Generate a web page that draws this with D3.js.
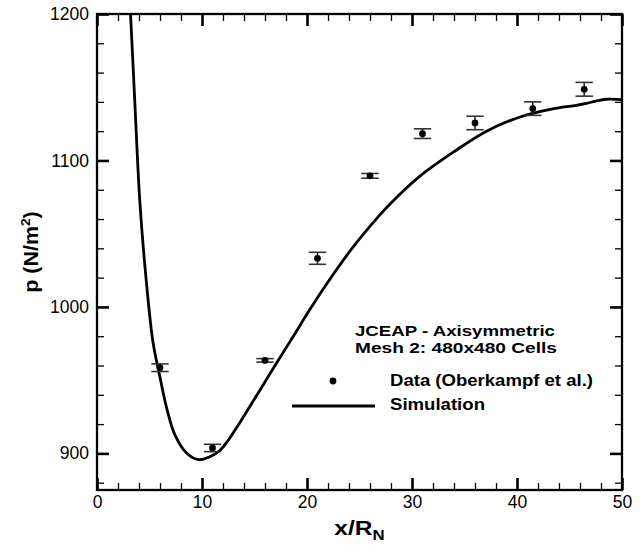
<!DOCTYPE html>
<html><head><meta charset="utf-8">
<script src="https://cdn.jsdelivr.net/npm/d3@7"></script>
<style>
html,body{margin:0;padding:0;background:#fff;}
text{font-family:"Liberation Sans",Arial,sans-serif;}
</style></head>
<body>
<svg id="chart" width="642" height="545"></svg>
<script>
// Experimental data (Oberkampf et al.)
const dataX = [6, 11, 16, 21, 26, 31, 36, 41.5, 46.4];
const dataP = [958.5, 903.7, 963.5, 1033.2, 1089.5, 1118.3, 1125.6, 1135.4, 1148.6];
const dataErr = [2.6, 2.5, 1.2, 4.1, 1.6, 3.3, 4.6, 4.6, 4.7];
// Simulation curve
const simX = [3.05, 3.2, 3.6, 4.07, 4.6, 5.33, 5.97, 6.6, 7.4, 8.5, 9.7, 10.7, 11.7, 12.6, 13.6, 15.5, 17.0, 18.7, 20.3, 21.9, 24.4, 26.9, 28.0, 30.7, 33.9, 37.1, 40.3, 43.4, 45.5, 46.6, 47.5, 48.5, 50];
const simP = [1215, 1199, 1140, 1073, 1025, 976, 953, 932, 913, 900.5, 895.7, 897.5, 902, 910, 921, 943, 960.5, 980, 998.5, 1016, 1041, 1062.5, 1071, 1089, 1105.5, 1120, 1129.7, 1135.2, 1137.5, 1139, 1140.5, 1141.8, 1141.6];
// Axis ticks
const xTicks = [0, 10, 20, 30, 40, 50];
const yTicks = [900, 1000, 1100, 1200];
const legendTitle = ["JCEAP - Axisymmetric", "Mesh 2: 480x480 Cells"];
const legendLabels = ["Data (Oberkampf et al.)", "Simulation"];

(function () {
const L = 97, R = 622, T = 14, B = 490;
const svg = d3.select("#chart");
const x = d3.scaleLinear().domain([0, 50]).range([L, R]);
const y = d3.scaleLinear().domain([875, 1200]).range([B, T]);

svg.append("defs").append("clipPath").attr("id", "clip")
  .append("rect").attr("x", L).attr("y", T).attr("width", R - L).attr("height", B - T);

const xMinor = d3.range(0, 50.01, 2).filter(v => !xTicks.includes(v));
const yMinor = d3.range(880, 1200.01, 20).filter(v => !yTicks.includes(v));

svg.append("g").attr("transform", `translate(0,${B})`)
  .call(d3.axisBottom(x).tickValues(xTicks).tickSize(-12).tickPadding(6).tickFormat(d3.format("d")));
svg.append("g").attr("transform", `translate(0,${T})`)
  .call(d3.axisTop(x).tickValues(xTicks).tickSize(-12).tickFormat(""));
svg.append("g").attr("transform", `translate(${L},0)`)
  .call(d3.axisLeft(y).tickValues(yTicks).tickSize(-12).tickPadding(8).tickFormat(d3.format("d")));
svg.append("g").attr("transform", `translate(${R},0)`)
  .call(d3.axisRight(y).tickValues(yTicks).tickSize(-12).tickFormat(""));
svg.append("g").attr("transform", `translate(0,${B})`).attr("class","minor")
  .call(d3.axisBottom(x).tickValues(xMinor).tickSize(-7).tickFormat(""));
svg.append("g").attr("transform", `translate(0,${T})`).attr("class","minor")
  .call(d3.axisTop(x).tickValues(xMinor).tickSize(-7).tickFormat(""));
svg.append("g").attr("transform", `translate(${L},0)`).attr("class","minor")
  .call(d3.axisLeft(y).tickValues(yMinor).tickSize(-7).tickFormat(""));
svg.append("g").attr("transform", `translate(${R},0)`).attr("class","minor")
  .call(d3.axisRight(y).tickValues(yMinor).tickSize(-7).tickFormat(""));

svg.selectAll(".domain").remove();
svg.selectAll(".tick line").attr("stroke", "#000").attr("stroke-width", 2.6);
svg.selectAll(".minor .tick line").attr("stroke-width", 1.3);
svg.selectAll(".tick text").attr("font-size", 17.5).attr("fill", "#000")
  .attr("font-family", "Liberation Sans, Arial, sans-serif");

// Frame
svg.append("rect").attr("x", L).attr("y", T).attr("width", R - L).attr("height", B - T)
  .attr("fill", "none").attr("stroke", "#000").attr("stroke-width", 2.3);

// Simulation line
const line = d3.line().x((d, i) => x(simX[i])).y((d, i) => y(simP[i])).curve(d3.curveCatmullRom.alpha(0.5));
svg.append("path").attr("clip-path", "url(#clip)").datum(simX)
  .attr("d", line).attr("fill", "none").attr("stroke", "#000").attr("stroke-width", 2.8);

// Error bars + data points
const pts = svg.append("g");
dataX.forEach((xv, i) => {
  const cx = x(xv), y1 = y(dataP[i] + dataErr[i]), y2 = y(dataP[i] - dataErr[i]);
  pts.append("line").attr("x1", cx).attr("x2", cx).attr("y1", y1).attr("y2", y2)
    .attr("stroke", "#222").attr("stroke-width", 1.5);
  [y1, y2].forEach(yy => pts.append("line").attr("x1", cx - 8.7).attr("x2", cx + 8.7)
    .attr("y1", yy).attr("y2", yy).attr("stroke", "#333").attr("stroke-width", 1.6));
  pts.append("circle").attr("cx", cx).attr("cy", y(dataP[i])).attr("r", 3.4).attr("fill", "#000");
});

// Legend
const lg = svg.append("g").attr("font-weight", "bold").attr("fill", "#000");
lg.append("text").attr("x", 355).attr("y", 336).attr("font-size", 15.5)
  .attr("textLength", 200).attr("lengthAdjust", "spacingAndGlyphs").text(legendTitle[0]);
lg.append("text").attr("x", 355).attr("y", 353).attr("font-size", 15.5)
  .attr("textLength", 202).attr("lengthAdjust", "spacingAndGlyphs").text(legendTitle[1]);
lg.append("circle").attr("cx", 333).attr("cy", 381).attr("r", 3.4).attr("fill", "#000");
lg.append("text").attr("x", 390).attr("y", 386).attr("font-size", 16.5)
  .attr("textLength", 203).attr("lengthAdjust", "spacingAndGlyphs").text(legendLabels[0]);
lg.append("line").attr("x1", 292).attr("x2", 375).attr("y1", 406).attr("y2", 406)
  .attr("stroke", "#000").attr("stroke-width", 2.8);
lg.append("text").attr("x", 390).attr("y", 410).attr("font-size", 16.5)
  .attr("textLength", 95).attr("lengthAdjust", "spacingAndGlyphs").text(legendLabels[1]);

// Axis titles
const xt = svg.append("text")
  .attr("transform", `translate(${(L + R) / 2},535) scale(1.2,1)`)
  .attr("text-anchor", "middle").attr("font-weight", "bold").attr("font-size", 20.5);
xt.append("tspan").text("x/R");
xt.append("tspan").attr("font-size", 14).attr("dy", 5).text("N");

const yt = svg.append("text").attr("transform", `translate(38,${(T + B) / 2}) rotate(-90) scale(1.1,1)`)
  .attr("text-anchor", "middle").attr("font-weight", "bold").attr("font-size", 19.5);
yt.append("tspan").text("p (N/m");
yt.append("tspan").attr("font-size", 12.5).attr("dy", -8).text("2");
yt.append("tspan").attr("dy", 8).text(")");
})();
</script>
</body></html>
